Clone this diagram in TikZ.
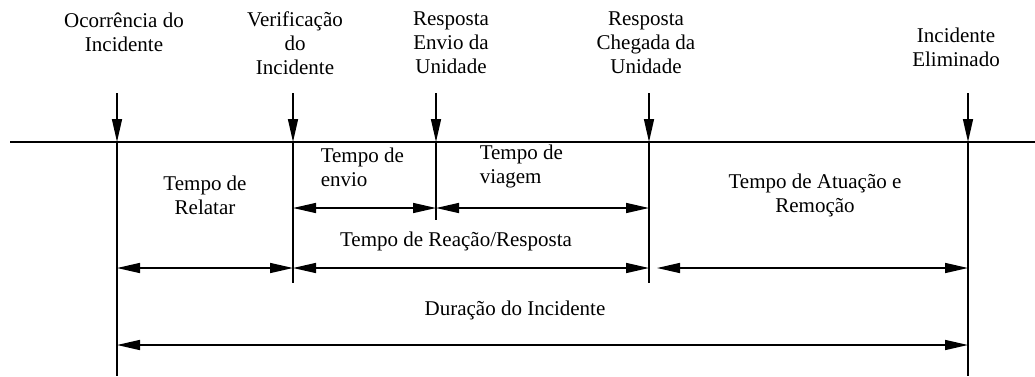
\documentclass[tikz,border=0pt]{standalone}
\usepackage{fontspec}
\setmainfont{Liberation Serif}
\usetikzlibrary{arrows.meta,calc}

\begin{document}
\begin{tikzpicture}[x=1pt,y=1pt,line width=1.5pt,every node/.style={inner sep=0pt,align=center,font=\fontsize{21}{24}\selectfont},>={Triangle[length=23pt,width=10pt]}]
\useasboundingbox(0,0)rectangle(1035,376);
\coordinate(L)at(10,234);
\coordinate(R)at(1035,234);
\draw(L)--(R);
\foreach \n/\x/\y in {A/117/0,B/293/93,C/436/156,D/649/93,E/968/0}
{
\coordinate(\n)at(\x,234);
\coordinate(\n0)at(\x,283);
\coordinate(\n1)at(\x,\y);
\draw[->](\n0)--(\n);
\draw(\n)--(\n1);
}
\foreach \x/\y/\h in {B/C/66,C/D/66,A/B/126,B/D/126,A/E/203}
{\draw[<->]([yshift=-\h pt]\x)--([yshift=-\h pt]\y);}
\draw[<->]([shift={(8pt,-126pt)}]D)--([yshift=-126pt]E);
% eventos
\node(oc)at(124,344){Ocorrência do\\Incidente};
\node(ve)at(295,333){Verificação\\do\\Incidente};
\node(re)at(451,333){Resposta\\Envio da\\Unidade};
\node(rc)at(646,333){Resposta\\Chegada da\\Unidade};
\node(el)at(956,329){Incidente\\Eliminado};
% tempos
\node(tr)at(205,181){Tempo de\\Relatar};
\node[anchor=west,align=left](te)at(320,209){Tempo de\\envio};
\node[anchor=west,align=left](tv)at(479,210){Tempo de\\viagem};
\node[anchor=base](tp)at(456,130){Tempo de Reação/Resposta};
\node(ta)at(815,181){Tempo de Atuação e\\Remoção};
\node[anchor=base](du)at(515,61){Duração do Incidente};
\end{tikzpicture}
\end{document}
